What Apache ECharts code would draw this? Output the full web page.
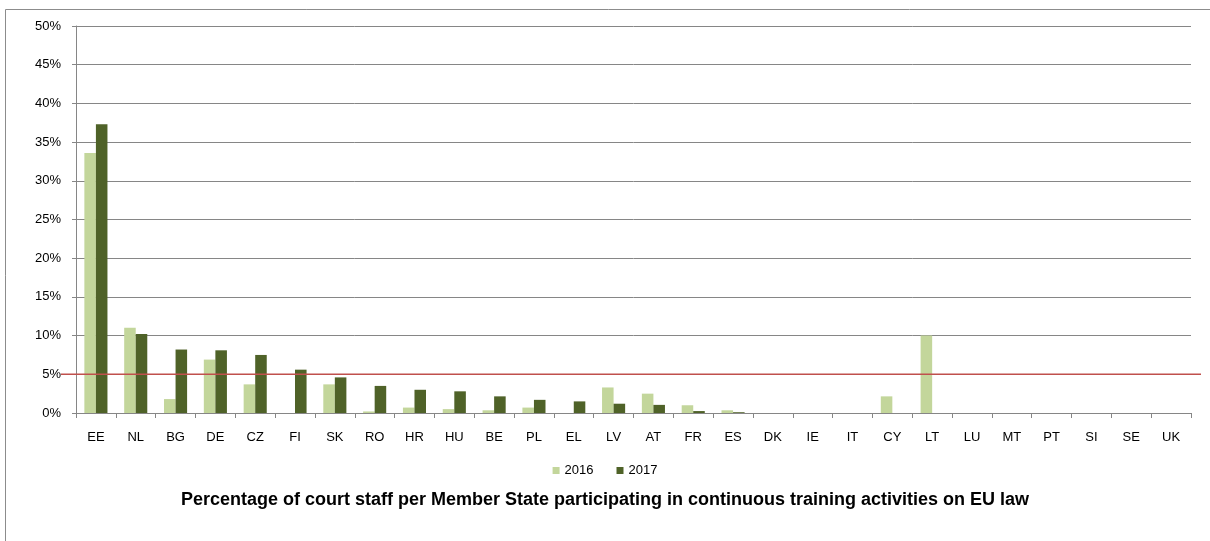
<!DOCTYPE html>
<html>
<head>
<meta charset="utf-8">
<script src="https://cdn.jsdelivr.net/npm/echarts@6/dist/echarts.min.js"></script>
<style>html,body{margin:0;padding:0;background:#fff;}#c{width:1210px;height:541px;}</style>
</head>
<body>
<div id="c"></div>
<script>
const categories = ['EE','NL','BG','DE','CZ','FI','SK','RO','HR','HU','BE','PL','EL','LV','AT','FR','ES','DK','IE','IT','CY','LT','LU','MT','PT','SI','SE','UK'];
const values2016 = [33.6,11.0,1.8,6.9,3.7,0,3.7,0.2,0.7,0.5,0.35,0.7,0,3.3,2.5,1.0,0.35,0,0,0,2.15,10.0,0,0,0,0,0,0];
const values2017 = [37.3,10.2,8.2,8.1,7.5,5.6,4.6,3.5,3.0,2.8,2.15,1.7,1.5,1.2,1.05,0.25,0.1,0,0,0,0,0,0,0,0,0,0,0];
const yTicks = [0,5,10,15,20,25,30,35,40,45,50];
const threshold = 5;
const seriesNames = ['2016','2017'];
const titleText = 'Percentage of court staff per Member State participating in continuous training activities on EU law';

const chart = echarts.init(document.getElementById('c'), null, {renderer:'canvas'});
const font = 'Liberation Sans';
chart.setOption({
  animation:false,
  backgroundColor:'#fff',
  textStyle:{fontFamily:font},
  title:{text:titleText,left:600,textAlign:'center',top:486,textStyle:{fontFamily:font,fontSize:18,fontWeight:'bold',color:'#000'}},
  legend:{data:seriesNames,left:'center',top:459,itemWidth:7,itemHeight:7,itemGap:23,icon:'rect',textStyle:{fontFamily:font,fontSize:13,color:'#000'}},
  graphic:[{type:'rect',shape:{x:5.5,y:9.5,width:1220,height:560},style:{fill:'none',stroke:'#8c8c8c',lineWidth:1},silent:true,z:-1}],
  grid:[
    {left:76,right:19,top:26,bottom:128},
    {left:61,right:9,top:26,bottom:128}
  ],
  xAxis:[
    {type:'category',data:categories,gridIndex:0,boundaryGap:true,
     axisLine:{lineStyle:{color:'#868686'}},
     axisTick:{show:true,length:5,lineStyle:{color:'#868686'}},
     axisLabel:{fontFamily:font,fontSize:13,color:'#000',margin:18}},
    {type:'value',gridIndex:1,min:0,max:1,show:false}
  ],
  yAxis:[
    {type:'value',gridIndex:0,min:yTicks[0],max:yTicks[yTicks.length-1],interval:5,
     axisLine:{show:true,lineStyle:{color:'#868686'}},
     axisTick:{show:true,length:4,lineStyle:{color:'#868686'}},
     splitLine:{lineStyle:{color:'#868686'}},
     axisLabel:{fontFamily:font,fontSize:13,color:'#000',margin:15,formatter:'{value}%'}},
    {type:'value',gridIndex:1,min:yTicks[0],max:yTicks[yTicks.length-1],show:false}
  ],
  series:[
    {name:seriesNames[0],type:'bar',data:values2016,itemStyle:{color:'#c3d69b'},barGap:'0%',barCategoryGap:'42%',xAxisIndex:0,yAxisIndex:0},
    {name:seriesNames[1],type:'bar',data:values2017,itemStyle:{color:'#4f6228'},barGap:'0%',barCategoryGap:'42%',xAxisIndex:0,yAxisIndex:0},
    {name:'threshold',type:'line',xAxisIndex:1,yAxisIndex:1,data:[[0,threshold],[1,threshold]],symbol:'none',lineStyle:{color:'#c0504d',width:1.5},z:5,silent:true}
  ]
});
</script>
</body>
</html>
